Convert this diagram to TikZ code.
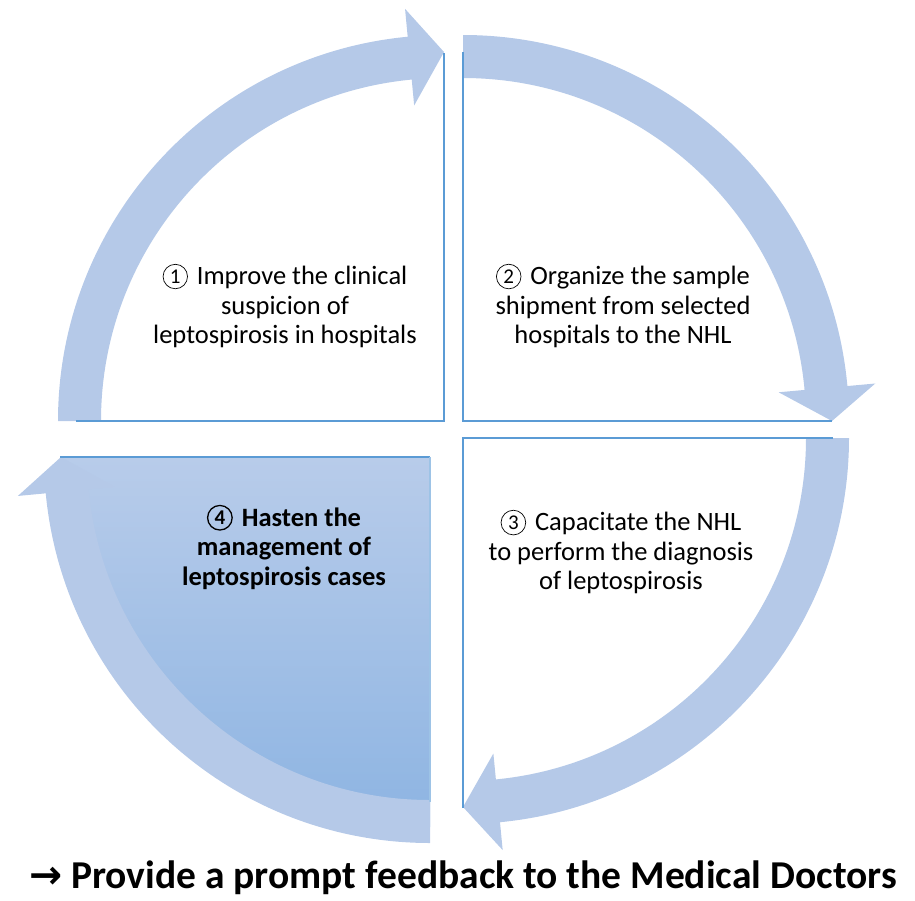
\documentclass[tikz,border=0pt]{standalone}
\usepackage{fontspec}
\setmainfont{Carlito}
\newfontfamily\symfont{DejaVu Sans}
\usetikzlibrary{calc}

\definecolor{arrowblue}{RGB}{181,201,232}
\definecolor{lineblue}{RGB}{91,155,213}
\definecolor{shadetop}{RGB}{184,204,234}
\definecolor{shadebot}{RGB}{141,180,226}

% curved block arrow around a centre:
% #1 centre, #2 tail angle, #3 angle of the head base, #4 angle of the tip
\newcommand\cyclearrow[4]{%
  \fill[arrowblue]
    ($(#1)+(#2:386pt)$) arc[start angle=#2, end angle=#3, radius=386pt]
    -- ($(#1)+(#3:414pt)$) -- ($(#1)+(#4:369pt)$) -- ($(#1)+(#3:317pt)$)
    -- ($(#1)+(#3:343pt)$) arc[start angle=#3, end angle=#2, radius=343pt]
    -- cycle;}

\tikzset{
  edgeline/.style={draw=lineblue, line width=1.8pt},
  steptext/.style={align=center, font=\fontsize{26.5}{29.5}\selectfont, text=black},
  ringnum/.style={circle, draw=black, line width=0.7pt, inner sep=2.6pt,
    font=\fontsize{21}{21}\selectfont}
}
% step number set in a thin ring
\newcommand\circnum[2][]{\tikz[baseline={([yshift=-1.5pt]rn.base)}]\node[ringnum,#1] (rn) {#2};\hspace{3pt}}

\begin{document}
\begin{tikzpicture}[x=1pt, y=1pt]
  \useasboundingbox (0,0) rectangle (915,-900);

  % quadrant corners
  \coordinate (c1) at (444,-421);
  \coordinate (c2) at (463,-421);
  \coordinate (c3) at (463,-438);
  \coordinate (c4) at (430,-457);

  % quadrant pies
  \fill[white] (c1) -- ($(c1)+(180:368pt)$) arc[start angle=180, end angle=90, radius=368pt] -- cycle;
  \fill[white] (c2) -- ($(c2)+(90:369pt)$) arc[start angle=90, end angle=0, radius=369pt] -- cycle;
  \fill[white] (c3) -- ($(c3)+(0:370pt)$) arc[start angle=0, end angle=-90, radius=370pt] -- cycle;
  \shade[top color=shadetop, bottom color=shadebot]
    (c4) -- ($(c4)+(180:370pt)$) arc[start angle=180, end angle=270, radius=370pt] -- cycle;

  % cycle arrows
  \cyclearrow{c1}{180}{95.4}{90}
  \cyclearrow{c2}{90}{5.2}{0}
  \cyclearrow{c3}{0}{-84.5}{-90}
  \cyclearrow{c4}{-90}{-174.6}{-180}

  % straight edges of the quadrants
  \draw[edgeline] ($(c1)+(180:368pt)$) -- (c1) -- ($(c1)+(90:368pt)$);
  \draw[edgeline] ($(c2)+(90:369pt)$) -- (c2) -- ($(c2)+(0:369pt)$);
  \draw[edgeline] ($(c3)+(0:370pt)$) -- (c3) -- ($(c3)+(-90:370pt)$);
  \draw[edgeline] ($(c4)+(180:370pt)$) -- (c4);
  \draw[draw=lineblue!60, line width=1.5pt] (c4) -- ($(c4)+(-90:345pt)$);

  % step texts
  \node[steptext] (s1) at (285,-306) {\circnum{1} Improve the clinical\\suspicion of\\leptospirosis in hospitals};
  \node[steptext] (s2) at (623,-306) {\circnum{2} Organize the sample\\shipment from selected\\hospitals to the NHL};
  \node[steptext] (s3) at (621,-552) {\circnum{3} Capacitate the NHL\\to perform the diagnosis\\of leptospirosis};
  \node[steptext, font=\fontsize{26.5}{29.5}\selectfont\bfseries] (s4) at (284,-547)
    {\circnum[line width=1.3pt]{4} Hasten the\\management of\\leptospirosis cases};

  % closing statement
  \node[font=\fontsize{39.5}{44}\selectfont\bfseries, text=black] (fb) at (463,-878)
    {{\symfont\bfseries →} Provide a prompt feedback to the Medical Doctors};
\end{tikzpicture}
\end{document}
